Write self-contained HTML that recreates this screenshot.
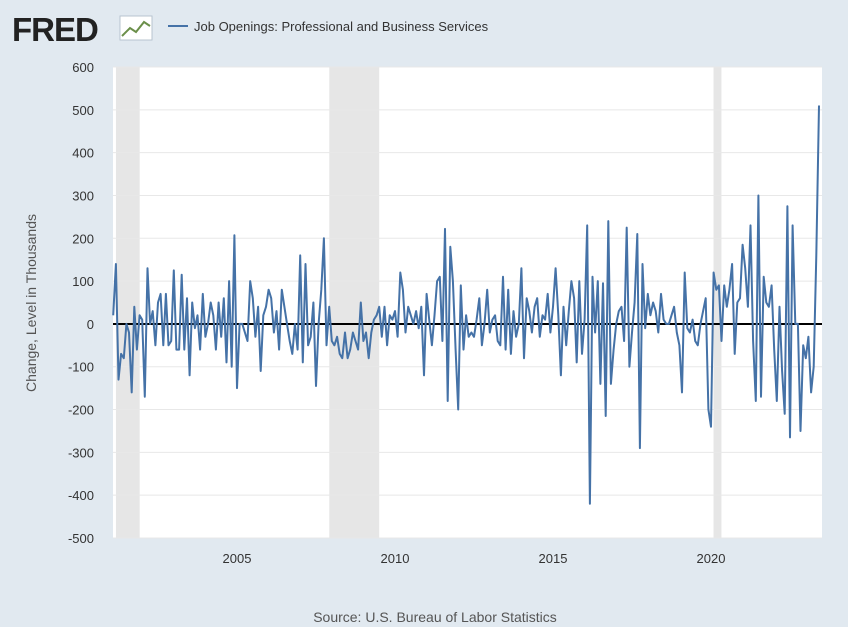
<!DOCTYPE html>
<html><head><meta charset="utf-8"><style>
body{margin:0;background:#e1e9f0;font-family:"Liberation Sans",sans-serif;}
#wrap{position:relative;width:848px;height:627px;overflow:hidden;}
</style></head><body>
<div id="wrap">
<svg id="chart" width="848" height="627">
<g>
<text x="12" y="41" font-size="33" font-weight="bold" fill="#222" letter-spacing="-1">FRED</text>
<rect x="120" y="16" width="32" height="24" fill="#fff" stroke="#b8c4cf"/>
<polyline points="122,36 130,28 136,32 144,22 150,26" fill="none" stroke="#6b8f4a" stroke-width="2"/>
</g>
<line x1="168" y1="26" x2="188" y2="26" stroke="#4572a7" stroke-width="2"/>
<text x="194" y="31" font-size="13" fill="#333">Job Openings: Professional and Business Services</text>
<rect x="113" y="67" width="709" height="471" fill="#fff"/>
<g id="rec"></g><g id="grid"></g><g id="ylab"></g><g id="xlab"></g>
<line x1="113" y1="324" x2="822" y2="324" stroke="#000" stroke-width="2"/>
<path id="series" fill="none" stroke="#4572a7" stroke-width="2" stroke-linejoin="round"/>
<text transform="translate(36,303) rotate(-90)" text-anchor="middle" font-size="14" fill="#555">Change, Level in Thousands</text>
<text x="435" y="622" text-anchor="middle" font-size="14" fill="#555">Source: U.S. Bureau of Labor Statistics</text>
</svg></div>
<script>
const startYear=2001, startMonth=2;
const yTicks=[600,500,400,300,200,100,0,-100,-200,-300,-400,-500];
const xTicks=[2005,2010,2015,2020];
const recessions=[[2001.17,2001.92],[2007.92,2009.5],[2020.08,2020.33]];
const values=[
20,140,-130,-70,-80,0,-20,-160,40,-60,20,
10,-170,130,0,30,-50,50,70,-50,70,-50,-40,
125,-60,-60,115,-60,60,-120,50,-10,20,-60,70,
-30,0,50,20,-60,50,-30,60,-90,100,-100,207,
-150,0,0,-20,-40,100,60,-30,40,-110,20,40,
80,60,-20,30,-60,80,40,0,-40,-70,0,-60,
160,-90,140,-50,-30,50,-145,0,80,200,-50,40,
-40,-50,-30,-70,-80,-20,-80,-60,-20,-40,-60,50,
-40,-20,-80,-20,10,20,40,-30,40,-50,20,10,
30,-30,120,80,-20,40,20,0,30,-10,40,-120,
70,10,-50,20,100,110,-40,222,-180,180,100,-60,
-200,90,-60,20,-30,-20,-30,10,60,-50,0,80,
-20,10,20,-40,-50,110,-60,80,-70,30,-30,0,
130,-80,60,30,-20,40,60,-30,20,10,70,-20,
40,130,20,-120,40,-50,30,100,60,-90,100,-70,
10,230,-420,110,-20,100,-140,95,-215,240,-140,-60,
0,30,40,-40,225,-100,-20,50,210,-290,140,-10,
70,20,50,30,-20,70,10,0,0,20,40,-20,
-50,-160,120,-10,-20,10,-40,-50,0,30,60,-200,
-240,120,80,90,-40,90,40,80,140,-70,50,60,
185,130,40,230,-40,-180,300,-170,110,50,40,90,
-60,-180,40,-110,-210,275,-265,230,0,0,-250,-50,
-80,-30,-160,-100,160,510];
const X0=113,X1=822,Y0=67,Y1=538;
const xs=t=>237+(t-2005)*31.6;
const ys=v=>Y0+(600-v)*(Y1-Y0)/1100;
const ns="http://www.w3.org/2000/svg";
function mk(tag,parent){const e=document.createElementNS(ns,tag);document.getElementById(parent).appendChild(e);return e;}
recessions.forEach(r=>{const e=mk('rect','rec');


const a=Math.max(X0,xs(r[0]));e.setAttribute('x',a);e.setAttribute('y',Y0);e.setAttribute('width',xs(r[1])-a);e.setAttribute('height',Y1-Y0);e.setAttribute('fill','#e6e6e6');});
yTicks.forEach(v=>{const g=mk('line','grid');


g.setAttribute('x1',X0);g.setAttribute('x2',X1);g.setAttribute('y1',ys(v));g.setAttribute('y2',ys(v));g.setAttribute('stroke','#e8e8e8');
const t=mk('text','ylab');


t.setAttribute('x',94);t.setAttribute('y',ys(v)+5);t.setAttribute('text-anchor','end');t.setAttribute('font-size','13');t.setAttribute('fill','#333');t.textContent=v;});
xTicks.forEach(y=>{const t=mk('text','xlab');


t.setAttribute('x',xs(y));t.setAttribute('y',563);t.setAttribute('text-anchor','middle');t.setAttribute('font-size','13');t.setAttribute('fill','#333');t.textContent=y;});
let d='';values.forEach((v,i)=>{const t=startYear+(startMonth-1+i)/12;d+=(i?'L':'M')+xs(t).toFixed(1)+','+ys(v).toFixed(1);});
document.getElementById('series').setAttribute('d',d);
</script>
</body></html>
